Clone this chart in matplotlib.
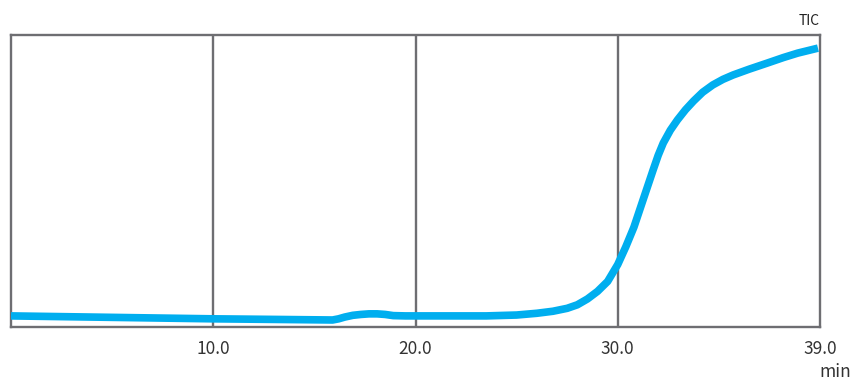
import matplotlib.pyplot as plt

plt.rcParams["font.family"] = ["Noto Sans CJK JP", "DejaVu Sans"]

# retention time (min, axis position) and relative TIC intensity (%)
time_min = [0.0, 5.0, 10.0, 13.0, 15.9, 16.2, 16.5, 16.9, 17.3, 17.7, 18.1,
            18.5, 18.9, 19.5, 20.0, 22.0, 23.5, 25.0, 26.0, 26.8, 27.5,
            28.0, 28.5, 29.0, 29.5, 30.0, 30.4, 30.8, 31.25, 31.75, 32.0,
            32.25, 32.6, 32.95, 33.35, 33.75, 34.2, 34.7, 35.2, 35.7, 36.5,
            37.4, 38.2, 38.9, 39.9]
tic = [3.8, 3.3, 2.8, 2.6, 2.4, 2.8, 3.4, 4.0, 4.3, 4.5, 4.5,
       4.3, 3.9, 3.8, 3.8, 3.8, 3.8, 4.1, 4.7, 5.4, 6.4,
       7.6, 9.6, 12.2, 15.6, 21.4, 27.5, 34.2, 43.5, 53.8, 58.8,
       63.0, 67.4, 70.9, 74.4, 77.4, 80.4, 82.9, 84.8, 86.3, 88.3,
       90.4, 92.3, 93.8, 95.5]

tick_pos = [10, 20, 30, 40]
tick_labels = ["10.0", "20.0", "30.0", "39.0"]

fig = plt.figure(figsize=(8.5, 3.81), dpi=100)
ax = fig.add_axes([11 / 850, 54 / 381, 809 / 850, 292 / 381])

grid_col = "#6e6e72"
ax.plot(time_min, tic, color="#00aeef", linewidth=5.5, solid_capstyle="butt",
        solid_joinstyle="round", zorder=3)

for x in tick_pos[:-1]:
    ax.axvline(x, color=grid_col, linewidth=1.7, zorder=2)

ax.set_xlim(0, 40)
ax.set_ylim(0, 100)
for sp in ax.spines.values():
    sp.set_color(grid_col)
    sp.set_linewidth(1.7)

ax.set_yticks([])
ax.set_xticks(tick_pos)
ax.set_xticklabels(tick_labels, fontsize=12.5, color="#333333")
ax.tick_params(axis="x", length=0, pad=9)

ax.text(1.0, 1.025, "TIC", transform=ax.transAxes, ha="right", va="bottom",
        fontsize=10, color="#222222")
fig.text(835 / 850, 1 - 372 / 381, "min", ha="center", va="center",
         fontsize=12.5, color="#333333")

fig.savefig("out.png", dpi=100)
